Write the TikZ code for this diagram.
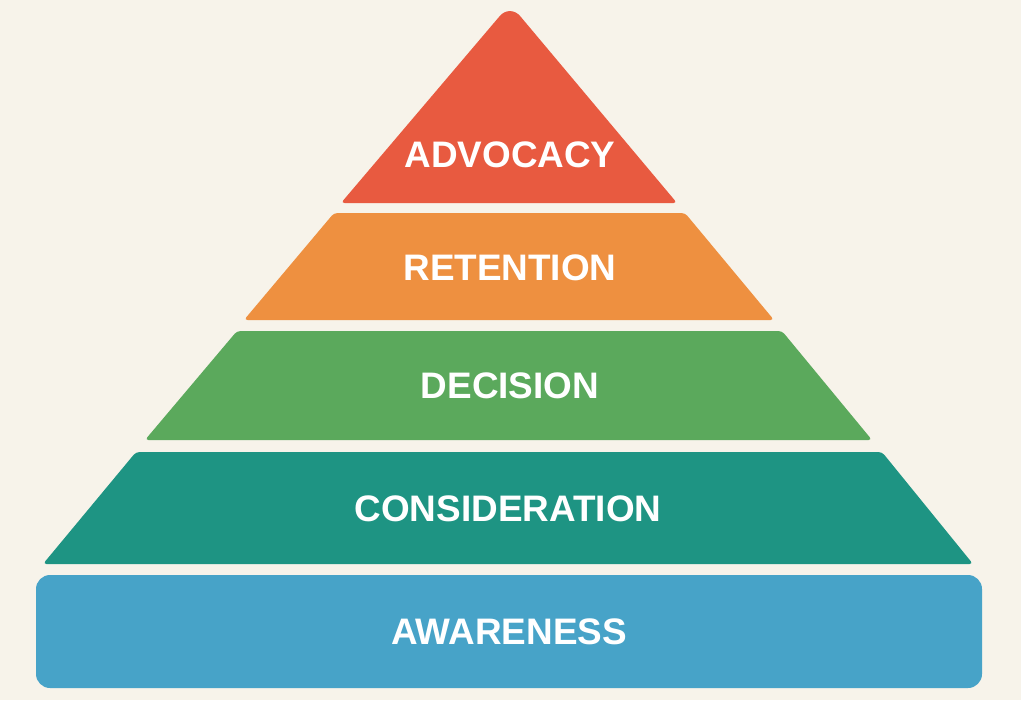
\documentclass[tikz,border=0pt]{standalone}
\usepackage{fontspec}
\setmainfont{Liberation Sans}
\usepackage{xcolor}

\definecolor{bgcream}{HTML}{F7F3EA}
\definecolor{advred}{HTML}{E85A40}
\definecolor{retorange}{HTML}{EE9040}
\definecolor{decgreen}{HTML}{5BA95C}
\definecolor{conteal}{HTML}{1E9483}
\definecolor{awablue}{HTML}{47A3C8}

\tikzset{
  layer/.style={line join=round, rounded corners=2pt},
  label/.style={text=white, font=\fontsize{21}{25}\selectfont\bfseries}
}

\begin{document}
\begin{tikzpicture}[x=0.02cm, y=-0.02cm]

    % background
    \fill[bgcream] (0,0) rectangle (1021,700);

    % top level (triangle)
    \fill[advred, layer] (341,203) [rounded corners=9pt] -- (510,4) [rounded corners=2pt] -- (677,203) -- cycle;
    \node[label] (advocacy) at (510,155) {ADVOCACY};

    % second level
    \fill[retorange, layer] (334,213) -- (685,213) -- (774,320) -- (244,320) -- cycle;
    \node[label] (retention) at (510,268) {RETENTION};

    % third level
    \fill[decgreen, layer] (237,331) -- (782,331) -- (872,440) -- (145,440) -- cycle;
    \node[label] (decision) at (510,386) {DECISION};

    % fourth level
    \fill[conteal, layer] (136,452) -- (882,452) -- (973,564) -- (43,564) -- cycle;
    \node[label] (consideration) at (508,509) {CONSIDERATION};

    % base level
    \fill[awablue, rounded corners=8pt] (36,575) rectangle (982,688);
    \node[label] (awareness) at (509,632) {AWARENESS};

\end{tikzpicture}
\end{document}
